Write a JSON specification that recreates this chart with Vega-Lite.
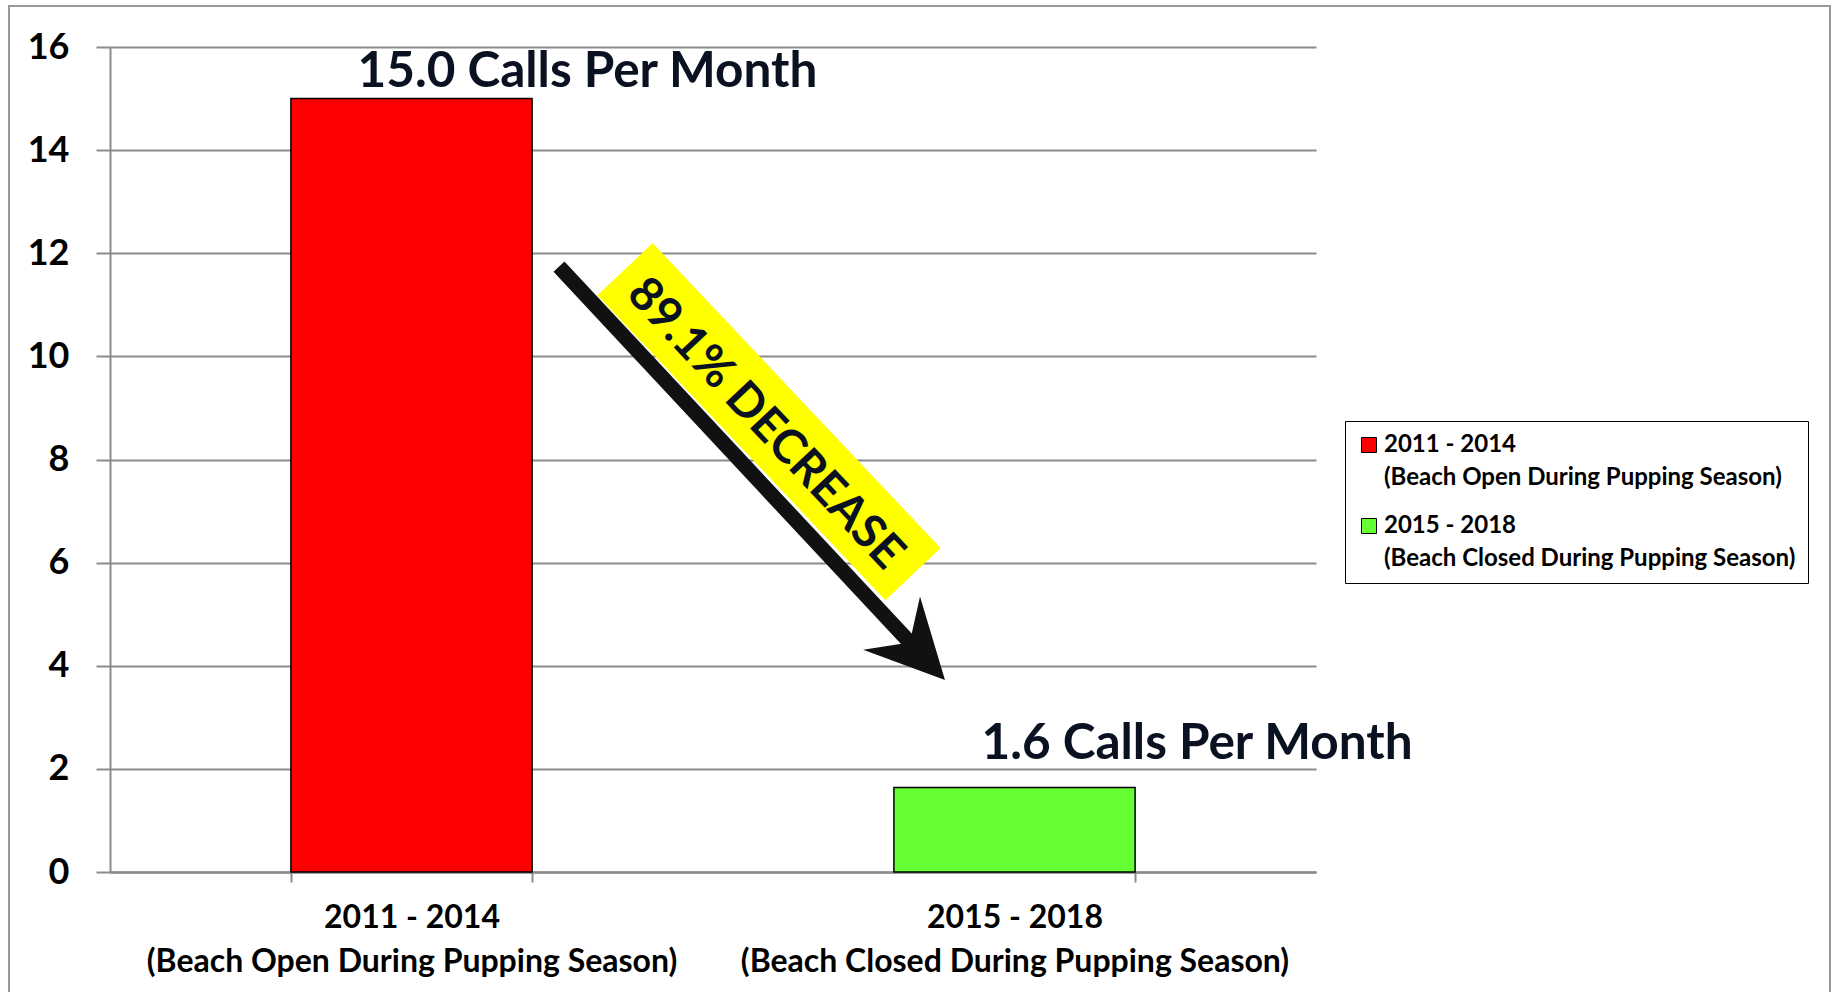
{
  "$schema": "https://vega.github.io/schema/vega-lite/v6.json",
  "width": 1206,
  "height": 825,
  "autosize": {"type": "none"},
  "padding": {"left": 110, "top": 47, "right": 519, "bottom": 120},
  "background": "white",
  "config": {"view": {"stroke": null}, "font": "Lato", "legend": {"labelFontWeight": "bold"}},
  "data": {"values": [
    {"period": "2011 - 2014|(Beach Open During Pupping Season)", "calls": 15.0, "label": "15.0 Calls Per Month"},
    {"period": "2015 - 2018|(Beach Closed During Pupping Season)", "calls": 1.64, "label": "1.6 Calls Per Month"}
  ]},
  "resolve": {"scale": {"x": "independent"}, "axis": {"x": "independent"}},
  "layer": [
    {
      "layer": [
        {
          "mark": {"type": "bar", "stroke": "black", "strokeWidth": 1.5},
          "encoding": {
            "x": {
              "field": "period", "type": "nominal", "sort": null,
              "scale": {"paddingInner": 0.6, "paddingOuter": 0.3},
              "axis": {
                "title": null, "labelAngle": 0, "labelExpr": "split(datum.label, '|')",
                "labelFont": "Lato", "labelFontSize": 32, "labelFontWeight": "bold", "labelColor": "black",
                "labelLineHeight": 44, "labelPadding": 20, "labelLimit": 0,
                "tickBand": "extent", "tickSize": 10, "tickColor": "#8c8c8c", "tickWidth": 2,
                "domainColor": "#8c8c8c", "domainWidth": 2.5, "grid": false
              }
            },
            "y": {
              "field": "calls", "type": "quantitative",
              "scale": {"domain": [0, 16], "nice": false, "zero": true},
              "axis": {
                "title": null, "values": [0, 2, 4, 6, 8, 10, 12, 14, 16],
                "grid": true, "gridColor": "#8c8c8c", "gridWidth": 2,
                "tickSize": 14, "tickColor": "#8c8c8c", "tickWidth": 2,
                "domainColor": "#8c8c8c", "domainWidth": 2,
                "labelFont": "Lato", "labelFontSize": 36, "labelFontWeight": "bold", "labelColor": "black",
                "labelPadding": 27
              }
            },
            "color": {
              "field": "period", "type": "nominal", "sort": null,
              "scale": {"range": ["#ff0000", "#66ff33"]},
              "legend": {
                "title": null, "orient": "none", "legendX": 1235, "legendY": 374,
                "symbolType": "square", "symbolSize": 225,
                "symbolStrokeColor": "black", "symbolStrokeWidth": 1,
                "labelFont": "Lato", "labelFontSize": 24, "labelFontWeight": "bold", "labelColor": "black",
                "labelExpr": "split(datum.label, '|')", "labelLimit": 0, "labelOffset": 3,
                "strokeColor": "black", "fillColor": "white", "padding": 12, "rowPadding": 24,
                "encode": {
                  "labels": {"update": {"lineHeight": {"value": 33}, "fontWeight": {"value": "bold"}}}
                }
              }
            }
          }
        },
        {
          "transform": [{"filter": "datum.calls > 10"}],
          "mark": {"type": "text", "align": "left", "baseline": "alphabetic", "dx": -54, "dy": -12,
                   "font": "Lato", "fontSize": 49.5, "fontWeight": "bold", "color": "#0a1120"},
          "encoding": {
            "x": {"field": "period", "type": "nominal", "sort": null},
            "y": {"field": "calls", "type": "quantitative"},
            "text": {"field": "label"}
          }
        },
        {
          "transform": [{"filter": "datum.calls < 10"}],
          "mark": {"type": "text", "align": "left", "baseline": "alphabetic", "dx": -33, "dy": -28,
                   "font": "Lato", "fontSize": 49.5, "fontWeight": "bold", "color": "#0a1120"},
          "encoding": {
            "x": {"field": "period", "type": "nominal", "sort": null},
            "y": {"field": "calls", "type": "quantitative"},
            "text": {"field": "label"}
          }
        }
      ]
    },
    {
      "layer": [
        {
          "data": {"values": [{}]},
          "mark": {"type": "rect", "filled": false, "stroke": "#999999", "strokeWidth": 2},
          "encoding": {
            "x": {"datum": -0.1675, "type": "quantitative", "scale": {"domain": [0, 2], "nice": false, "zero": false}, "axis": null},
            "x2": {"datum": 2.8524},
            "y": {"datum": 16.795, "type": "quantitative"},
            "y2": {"datum": -2.5}
          }
        },
        {
          "data": {"values": [{}]},
          "mark": {"type": "rule", "color": "#ffff00", "strokeWidth": 76, "strokeCap": "butt"},
          "encoding": {
            "x": {"datum": 0.8541, "type": "quantitative", "scale": {"domain": [0, 2], "nice": false, "zero": false}, "axis": null},
            "x2": {"datum": 1.3317},
            "y": {"datum": 11.691, "type": "quantitative"},
            "y2": {"datum": 5.7755}
          }
        },
        {
          "data": {"values": [{"note": "89.1% DECREASE"}]},
          "mark": {"type": "text", "angle": 46.8, "align": "center", "baseline": "middle",
                   "font": "Lato", "fontSize": 47, "fontWeight": "bold", "color": "#0a1120"},
          "encoding": {
            "x": {"datum": 1.0862, "type": "quantitative", "scale": {"domain": [0, 2], "nice": false, "zero": false}, "axis": null},
            "y": {"datum": 8.689, "type": "quantitative"},
            "text": {"field": "note"}
          }
        },
        {
          "data": {"values": [{}]},
          "mark": {"type": "rule", "color": "#111111", "strokeWidth": 15, "strokeCap": "butt"},
          "encoding": {
            "x": {"datum": 0.7446, "type": "quantitative", "scale": {"domain": [0, 2], "nice": false, "zero": false}, "axis": null},
            "x2": {"datum": 1.3333},
            "y": {"datum": 11.739, "type": "quantitative"},
            "y2": {"datum": 4.364}
          }
        },
        {
          "data": {"values": [{}]},
          "mark": {"type": "point", "shape": "M0,0L-1,-0.5L-0.66,0L-1,0.5Z", "filled": true,
                   "fill": "#111111", "strokeWidth": 0, "opacity": 1, "size": 24336, "angle": 46.8},
          "encoding": {
            "x": {"datum": 1.3847, "type": "quantitative", "scale": {"domain": [0, 2], "nice": false, "zero": false}, "axis": null},
            "y": {"datum": 3.7236, "type": "quantitative"}
          }
        }
      ]
    }
  ]
}
